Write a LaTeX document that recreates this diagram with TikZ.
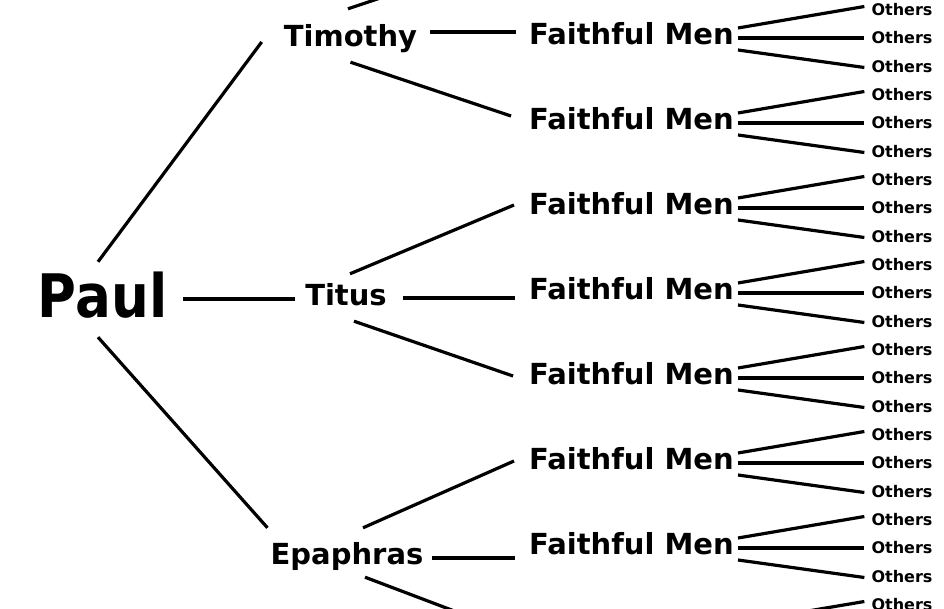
\documentclass[tikz,border=0pt]{standalone}
\usepackage{fontspec}
\setmainfont{DejaVu Sans}

\tikzset{
  apostle/.style={font=\fontsize{60}{60}\selectfont\bfseries, inner sep=0pt, text height=44pt, text depth=0pt},
  disciple/.style={font=\fontsize{29}{29}\selectfont\bfseries, inner sep=0pt, text height=21pt, text depth=0pt},
  faithful/.style={disciple},
  others/.style={font=\fontsize{16}{16}\selectfont\bfseries, inner sep=0pt, text height=11.7pt, text depth=0pt},
  link/.style={line width=3.2pt}
}

\begin{document}
\begin{tikzpicture}[x=1pt, y=-1pt]
  \clip (0,0) rectangle (944,609);

  % Paul and the three he trained
  \node[apostle] (paul) at (102.5,295) {\scalebox{0.885}[1]{Paul}};
  \node[disciple] (tim) at (350.5,36.5) {Timothy};
  \node[disciple] (tit) at (346,295) {Titus};
  \node[disciple] (epa) at (347,554) {Epaphras};

  % Faithful men, each with three others
  \foreach \k in {1,...,7} {
    \pgfmathsetmacro\hub{38+85*(\k-1)}
    \node[faithful] (fm\k) at (631.5,{\hub-4}) {Faithful Men};
    \foreach \j/\n in {-1/a,0/b,1/c} {
      \node[others] (o\k\n) at (902,{\hub+28.5*\j}) {Others};
    }
    \draw[link] ([shift={(4,-6)}]fm\k.east) -- ([shift={(-7,-3)}]o\k a.west);
    \draw[link] ([shift={(4,4)}]fm\k.east) -- ([shift={(-7,0)}]o\k b.west);
    \draw[link] ([shift={(4,16)}]fm\k.east) -- ([shift={(-7,1)}]o\k c.west);
  }

  % rows running off the page
  \coordinate (up) at (512,-46);
  \coordinate (down) at (515,634);
  \coordinate (low) at (737,623);
  \node[others] (o8a) at (902,604.5) {Others};
  \draw[link] (low) -- ([shift={(-7,-3)}]o8a.west);

  % Paul to his men
  \draw[link] ([shift={(-4.5,-11)}]paul.north) -- ([shift={(-22,5.5)}]tim.west);
  \draw[link] ([shift={(16,4)}]paul.east) -- ([shift={(-10.5,4)}]tit.west);
  \draw[link] ([shift={(-4.5,20)}]paul.south) -- ([shift={(-3,-15.5)}]epa.north west);

  % Timothy
  \draw[link] ([shift={(-2.5,-17)}]tim.north) -- (up);
  \draw[link] ([shift={(13,-4.5)}]tim.east) -- ([shift={(-13,-2)}]fm1.west);
  \draw[link] ([shift={(0,15)}]tim.south) -- ([shift={(-18,-3)}]fm2.west);

  % Titus
  \draw[link] ([shift={(4,-10.5)}]tit.north) -- ([shift={(-15,1)}]fm3.west);
  \draw[link] ([shift={(16.5,3)}]tit.east) -- ([shift={(-14,9)}]fm4.west);
  \draw[link] ([shift={(8,15.5)}]tit.south) -- ([shift={(-16,2)}]fm5.west);

  % Epaphras
  \draw[link] ([shift={(16,-15.5)}]epa.north) -- ([shift={(-15,2)}]fm6.west);
  \draw[link] ([shift={(8,4)}]epa.east) -- ([shift={(-14,14)}]fm7.west);
  \draw[link] ([shift={(18,12.5)}]epa.south) -- (down);
\end{tikzpicture}
\end{document}
